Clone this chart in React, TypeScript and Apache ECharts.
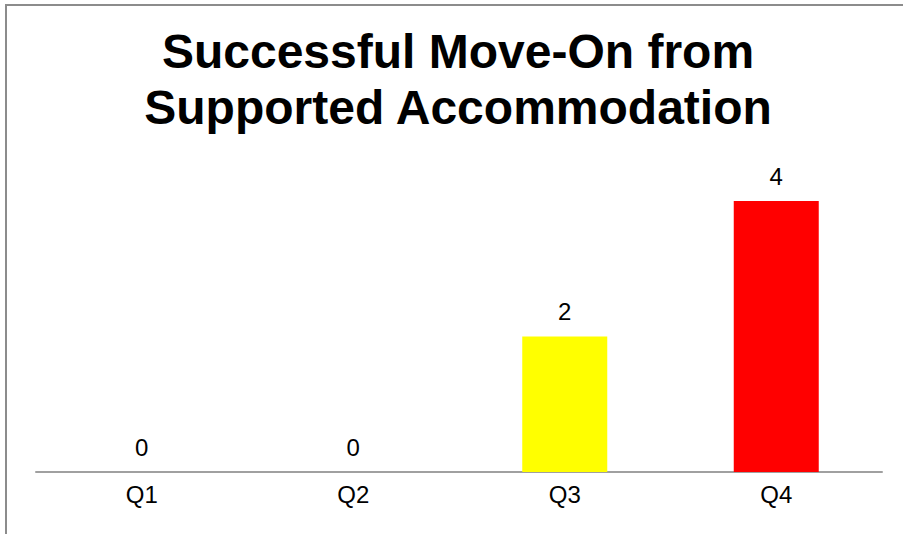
import React, { useEffect, useRef } from "react";
import * as echarts from "echarts";

const categories = ["Q1", "Q2", "Q3", "Q4"];
const values = [0, 0, 2, 4];
const barColors = ["#4f81bd", "#4f81bd", "#ffff00", "#ff0000"];
const titleText = "Successful Move-On from\nSupported Accommodation";

export default function App() {
  const ref = useRef<HTMLDivElement>(null);
  useEffect(() => {
    if (!ref.current) return;
    const chart = echarts.init(ref.current, undefined, { renderer: "svg" });
    const font = "'Liberation Sans', Arial, sans-serif";
    chart.setOption({
      animation: false,
      backgroundColor: "#ffffff",
      title: {
        text: titleText,
        left: 458,
        top: 23,
        padding: 0,
        textAlign: "center",
        textStyle: {
          fontFamily: font,
          fontSize: 48,
          fontWeight: "bold",
          color: "#000000",
          lineHeight: 56,
        },
      },
      graphic: [
        {
          type: "rect",
          shape: { x: 6, y: 5, width: 1000, height: 600 },
          style: { fill: "none", stroke: "#8c8c8c", lineWidth: 2 },
          silent: true,
          z: 0,
        },
      ],
      grid: { left: 36, right: 21, top: 201, bottom: 62, containLabel: false },
      xAxis: {
        type: "category",
        data: categories,
        axisLine: { show: true, lineStyle: { color: "#a0a0a0", width: 2 } },
        axisTick: { show: false },
        axisLabel: {
          fontFamily: font,
          fontSize: 24,
          color: "#000000",
          margin: 10,
        },
        splitLine: { show: false },
      },
      yAxis: {
        type: "value",
        min: 0,
        max: 4,
        show: false,
        splitLine: { show: false },
      },
      series: [
        {
          type: "bar",
          barWidth: 85,
          data: values.map((v, i) => ({
            value: v,
            itemStyle: { color: barColors[i] },
          })),
          label: {
            show: true,
            position: "top",
            distance: 13,
            fontFamily: font,
            fontSize: 24,
            color: "#000000",
          },
        },
      ],
    });
    return () => chart.dispose();
  }, []);
  return (
    <div
      ref={ref}
      style={{ position: "fixed", left: 0, top: 0, width: 903, height: 534 }}
    />
  );
}
